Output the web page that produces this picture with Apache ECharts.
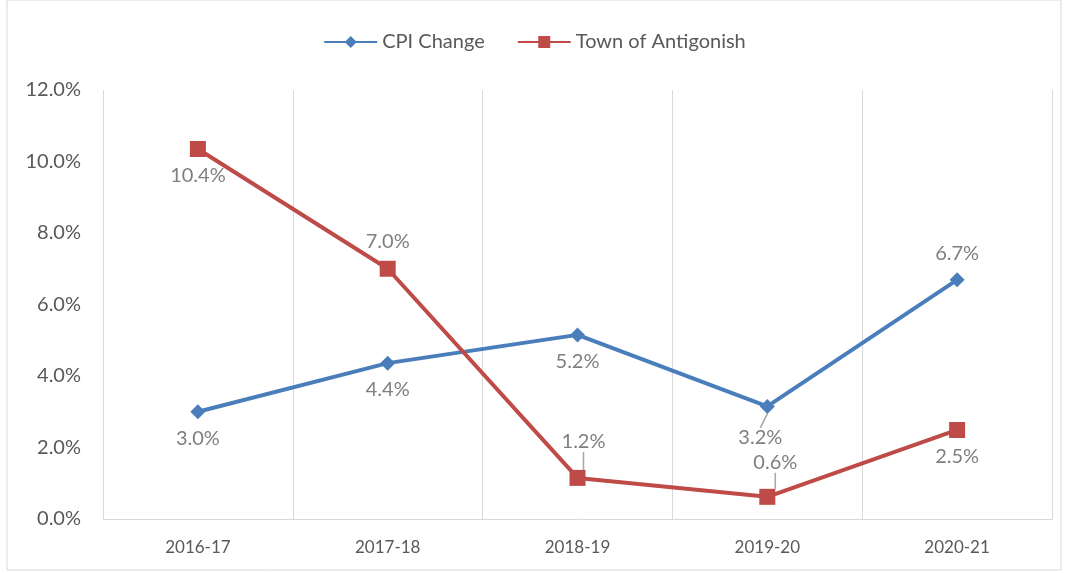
<!DOCTYPE html>
<html lang="en">

<head>
    <meta charset="UTF-8">
    <title>CPI vs Town of Antigonish</title>
    <script src="https://cdn.jsdelivr.net/npm/echarts@6/dist/echarts.min.js"></script>
    <style>
        body { margin: 0; background: #fff; }
        #chart { width: 1069px; height: 573px; }
    </style>
</head>

<body>
    <div id="chart"></div>
    <script>
        const years = ['2016-17', '2017-18', '2018-19', '2019-20', '2020-21'];
        const cpiChange = [3.0, 4.36, 5.15, 3.15, 6.69];
        const townChange = [10.35, 7.0, 1.15, 0.62, 2.49];
        // where each data label sits relative to its point
        const cpiLabelPos = ['bottom', 'bottom', 'bottom', 'bottom', 'top'];
        const townLabelPos = ['bottom', 'top', 'top', 'top', 'bottom'];

        const pct = v => (Math.round(v * 10) / 10).toFixed(1) + '%';
        const font = 'Lato, "Open Sans", sans-serif';

        // labels pushed away from the marker get a small leader line
        const pushed = {
            '0-3': { dx: -7, dy: 12 },
            '1-2': { dx: 6, dy: -16 },
            '1-3': { dx: 8, dy: -14 }
        };

        function withLabels(s, values, positions) {
            return values.map((v, i) => {
                const moved = !!pushed[s + '-' + i];
                return {
                    value: v,
                    label: { position: positions[i], distance: moved ? 2 : 9 },
                    labelLine: { show: moved }
                };
            });
        }

        const chart = echarts.init(document.getElementById('chart'));
        chart.setOption({
            animation: false,
            textStyle: { fontFamily: font },
            graphic: [{
                type: 'rect',
                shape: { x: 7, y: 0, width: 1054, height: 570 },
                style: { fill: 'none', stroke: '#d9d9d9', lineWidth: 1 }
            }],
            legend: {
                top: 27,
                left: 'center',
                itemWidth: 53,
                itemHeight: 15,
                itemGap: 32,
                textStyle: { fontSize: 20, color: '#595959', fontFamily: font }
            },
            grid: { left: 103, right: 17, top: 90, bottom: 54 },
            xAxis: {
                type: 'category',
                data: years,
                boundaryGap: true,
                axisLine: { lineStyle: { color: '#d9d9d9', width: 1 } },
                axisTick: { show: false },
                splitLine: { show: true, lineStyle: { color: '#d9d9d9' } },
                axisLabel: { color: '#595959', fontSize: 17, margin: 20 }
            },
            yAxis: {
                type: 'value',
                min: 0,
                max: 12,
                interval: 2,
                axisLine: { show: false },
                axisTick: { show: false },
                splitLine: { show: false },
                axisLabel: {
                    color: '#595959',
                    fontSize: 20,
                    margin: 22,
                    formatter: v => v.toFixed(1) + '%'
                }
            },
            labelLayout: p => pushed[p.seriesIndex + '-' + p.dataIndex] || {},
            series: [{
                name: 'CPI Change',
                type: 'line',
                data: withLabels(0, cpiChange, cpiLabelPos),
                symbol: 'diamond',
                symbolSize: 15,
                itemStyle: { color: '#4a7ebb' },
                lineStyle: { width: 4, color: '#4a7ebb' },
                label: {
                    show: true,
                    color: '#7f7f7f',
                    fontSize: 20,
                    formatter: p => pct(p.value)
                },
                labelLine: { show: false, lineStyle: { color: '#a6a6a6', width: 1.5 } }
            }, {
                name: 'Town of Antigonish',
                type: 'line',
                data: withLabels(1, townChange, townLabelPos),
                symbol: 'rect',
                symbolSize: 16,
                itemStyle: { color: '#be4b48' },
                lineStyle: { width: 4, color: '#be4b48' },
                label: {
                    show: true,
                    color: '#7f7f7f',
                    fontSize: 20,
                    formatter: p => pct(p.value)
                },
                labelLine: { show: false, lineStyle: { color: '#a6a6a6', width: 1.5 } }
            }]
        });
    </script>
</body>

</html>
